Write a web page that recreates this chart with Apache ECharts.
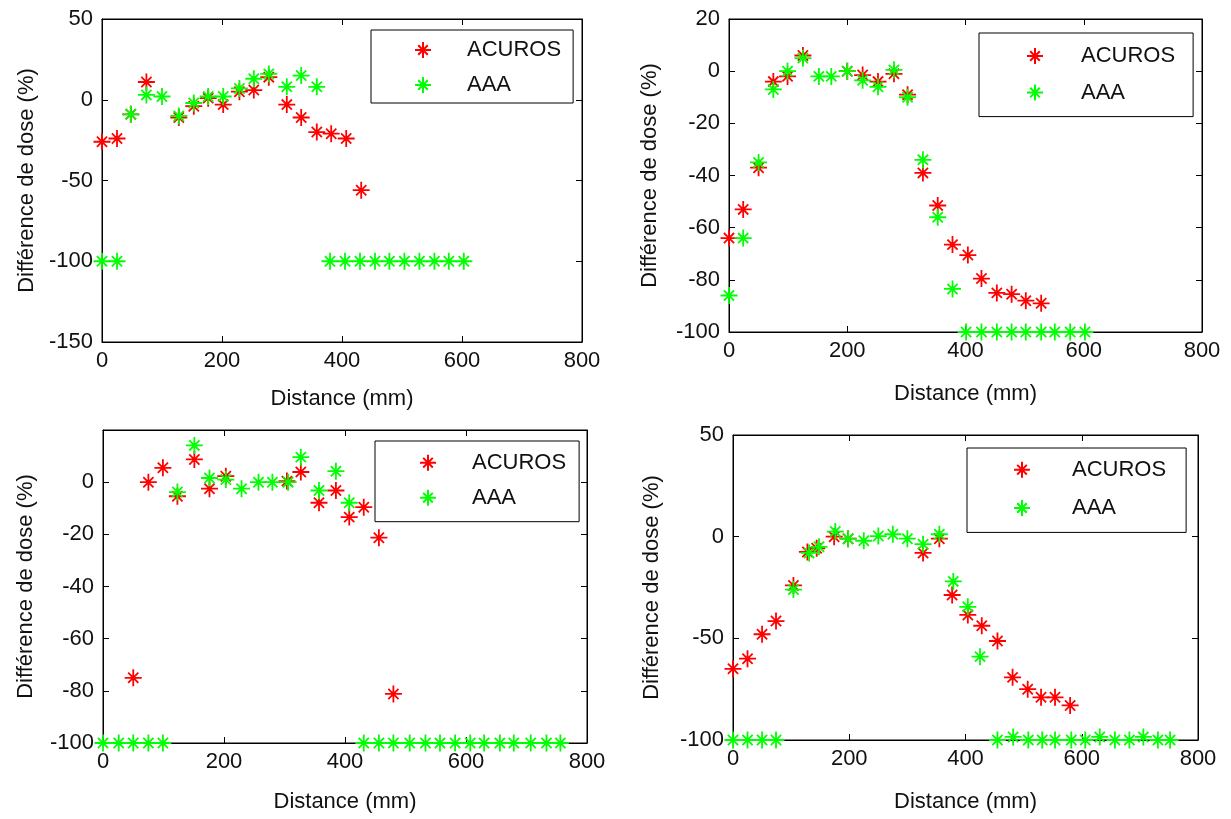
<!DOCTYPE html>
<html>
<head>
<meta charset="utf-8">
<script src="https://cdn.jsdelivr.net/npm/echarts@6/dist/echarts.min.js"></script>
<style>
html,body{margin:0;padding:0;background:#fff;}
#chart{width:1231px;height:819px;}
</style>
</head>
<body>
<div id="chart"></div>
<script>
// ---- Data ----
const seriesNames = ['ACUROS', 'AAA'];
const xTicks = [0, 200, 400, 600, 800];

// Panel 1 (top-left)
const p1AcurosX = [0, 25, 48, 74, 128, 153, 177, 202, 229, 253, 278, 308, 332, 358, 382, 407, 432];
const p1AcurosY = [-26, -24, -9, 11, -11, -4, 1, -3, 5, 6, 14, -3, -11, -20, -21, -24, -56];
const p1AaaX = [0, 25, 48, 74, 100, 128, 153, 177, 202, 229, 253, 278, 308, 332, 358, 380, 405, 430, 455, 479, 504, 529, 554, 578, 603];
const p1AaaY = [-100, -100, -9, 3, 2, -10, -2, 2, 2, 7, 13, 16, 8, 15, 8, -100, -100, -100, -100, -100, -100, -100, -100, -100, -100];
const p1YTicks = [-150, -100, -50, 0, 50];

// Panel 2 (top-right)
const p2AcurosX = [0, 24, 50, 75, 99, 125, 200, 226, 252, 279, 302, 328, 353, 378, 404, 427, 453, 478, 502, 528];
const p2AcurosY = [-64, -53, -37, -4, -2, 6, 0, -1.5, -4, -1, -9, -39, -51.5, -66.5, -70.5, -79.5, -85, -85.5, -88, -89];
const p2AaaX = [0, 24, 50, 75, 99, 125, 152, 173, 200, 226, 252, 279, 302, 328, 353, 378, 401, 427, 453, 478, 502, 528, 551, 577, 602];
const p2AaaY = [-86, -64, -35, -7, 0, 5, -2, -2, 0, -3.5, -6, 0.5, -10, -34, -56, -83.5, -100, -100, -100, -100, -100, -100, -100, -100, -100];
const p2YTicks = [-100, -80, -60, -40, -20, 0, 20];

// Panel 3 (bottom-left)
const p3AcurosX = [50, 75, 99, 123, 151, 176, 203, 304, 327, 357, 385, 407, 431, 456, 480];
const p3AcurosY = [-75, 0, 5.5, -5.4, 8.7, -2.5, 2.3, 0.4, 3.9, -7.9, -3.2, -13.4, -9.6, -21.3, -81.2];
const p3AaaX = [0, 26, 50, 75, 99, 123, 151, 176, 203, 229, 257, 280, 306, 327, 357, 385, 407, 431, 456, 480, 507, 533, 557, 582, 607, 630, 656, 679, 707, 733, 756];
const p3AaaY = [-100, -100, -100, -100, -100, -3.8, 14.1, 1.6, 1, -2.5, 0, 0, 0, 9.6, -3.2, 4.2, -7.9, -100, -100, -100, -100, -100, -100, -100, -100, -100, -100, -100, -100, -100, -100];
const p3YTicks = [-100, -80, -60, -40, -20, 0];

// Panel 4 (bottom-right)
const p4AcurosX = [0, 25, 50, 74, 104, 128, 144, 174, 198, 327, 355, 377, 404, 428, 455, 481, 507, 530, 554, 580];
const p4AcurosY = [-65, -60, -48, -41.5, -24, -7.5, -5.7, 0, -1, -8, -1, -28.7, -38.5, -43.8, -51.3, -69.2, -75, -79, -79, -83];
const p4AaaX = [0, 25, 50, 74, 104, 131, 148, 176, 198, 225, 250, 275, 300, 327, 355, 379, 404, 425, 455, 482, 508, 532, 554, 582, 606, 631, 657, 682, 706, 731, 752];
const p4AaaY = [-100, -100, -100, -100, -26, -8, -5, 2.5, -1, -2, 0.3, 1.2, -1, -3.7, 1.2, -22, -34.5, -59, -100, -98.5, -100, -100, -100, -100, -100, -98.5, -100, -100, -98.5, -100, -100];
const p4YTicks = [-100, -50, 0, 50];

// ---- Layout / styling ----
const FONT = 'Liberation Sans';
const FS = 22;
const STAR = 'path://M10,0L10,20M0,10L20,10M4,4L16,16M4,16L16,4';
const RED = '#ff0000', GREEN = '#00ff00';

const panels = [
  {grid: {left: 102, top: 19, width: 480, height: 323}, yTicks: p1YTicks, hideTop: false,
   xGap: 46, yGap: 64,
   acuros: [p1AcurosX, p1AcurosY], aaa: [p1AaaX, p1AaaY],
   legend: {left: 371, top: 30, padding: [9, 12, 7, 43], gap: 13, textPad: 31}},
  {grid: {left: 729, top: 19, width: 473, height: 313}, yTicks: p2YTicks, hideTop: false,
   xGap: 51, yGap: 68,
   acuros: [p2AcurosX, p2AcurosY], aaa: [p2AaaX, p2AaaY],
   legend: {left: 979, top: 33, padding: [12, 18, 13, 47], gap: 14.6, textPad: 33}},
  {grid: {left: 103, top: 430, width: 484, height: 313}, yTicks: [...p3YTicks, 20], hideTop: true,
   xGap: 48, yGap: 66,
   acuros: [p3AcurosX, p3AcurosY], aaa: [p3AaaX, p3AaaY],
   legend: {left: 375, top: 441, padding: [10.7, 13, 13, 44], gap: 13, textPad: 31}},
  {grid: {left: 733, top: 435, width: 465, height: 305}, yTicks: p4YTicks, hideTop: false,
   xGap: 51, yGap: 70,
   acuros: [p4AcurosX, p4AcurosY], aaa: [p4AaaX, p4AaaY],
   legend: {left: 967, top: 448, padding: [10.7, 20, 13.4, 46], gap: 16.3, textPad: 37}}
];

function zip(xs, ys) { return xs.map((x, i) => [x, ys[i]]); }

const grid = [], xAxis = [], yAxis = [], series = [], legend = [];
const axisLine = {show: true, onZero: false, lineStyle: {color: '#000', width: 1}};
const tickIn = {show: true, inside: true, length: 6, lineStyle: {color: '#000', width: 1}};
const labelStyle = {color: '#111', fontFamily: FONT, fontSize: FS};

panels.forEach((p, i) => {
  grid.push(Object.assign({show: true, borderColor: '#000', borderWidth: 1, backgroundColor: '#fff'}, p.grid));
  const yMin = p.yTicks[0], yMax = p.yTicks[p.yTicks.length - 1];
  const yInt = p.yTicks[1] - p.yTicks[0];
  xAxis[i] = {
    type: 'value', gridIndex: i, position: 'bottom', min: xTicks[0], max: xTicks[xTicks.length - 1], interval: xTicks[1] - xTicks[0],
    axisLine, axisTick: tickIn, splitLine: {show: false},
    axisLabel: Object.assign({margin: 8, showMaxLabel: true, showMinLabel: true}, labelStyle),
    name: 'Distance (mm)', nameLocation: 'middle', nameGap: p.xGap,
    nameTextStyle: Object.assign({}, labelStyle)
  };
  xAxis[i + 4] = {
    type: 'value', gridIndex: i, position: 'top', min: xTicks[0], max: xTicks[xTicks.length - 1], interval: xTicks[1] - xTicks[0],
    axisLine, axisTick: tickIn, splitLine: {show: false}, axisLabel: {show: false}
  };
  yAxis[i] = {
    type: 'value', gridIndex: i, position: 'left', min: yMin, max: yMax, interval: yInt,
    axisLine, axisTick: tickIn, splitLine: {show: false},
    axisLabel: Object.assign({margin: 9, showMaxLabel: true, showMinLabel: true,
      formatter: v => (p.hideTop && v === yMax) ? '' : String(v)}, labelStyle),
    name: 'Différence de dose (%)', nameLocation: 'middle', nameGap: p.yGap,
    nameTextStyle: Object.assign({}, labelStyle)
  };
  yAxis[i + 4] = {
    type: 'value', gridIndex: i, position: 'right', min: yMin, max: yMax, interval: yInt,
    axisLine, axisTick: tickIn, splitLine: {show: false}, axisLabel: {show: false}
  };
  [[seriesNames[0], p.acuros, RED], [seriesNames[1], p.aaa, GREEN]].forEach(([name, d, col]) => {
    series.push({
      type: 'scatter', name, xAxisIndex: i, yAxisIndex: i,
      data: zip(d[0], d[1]),
      symbol: STAR, symbolSize: 17,
      itemStyle: {color: col, borderColor: col, borderWidth: 1.8, opacity: 1},
      emphasis: {disabled: true}, silent: true
    });
  });
  legend.push({
    show: true, orient: 'vertical', left: p.legend.left, top: p.legend.top,
    padding: p.legend.padding, itemGap: p.legend.gap,
    borderColor: '#000', borderWidth: 1, backgroundColor: '#fff',
    itemWidth: 16, itemHeight: 16, icon: STAR, selectedMode: false,
    data: seriesNames,
    textStyle: {color: '#111', fontFamily: FONT, fontSize: FS, lineHeight: 22, padding: [0, 0, 0, p.legend.textPad]}
  });
});

const chart = echarts.init(document.getElementById('chart'), null, {renderer: 'canvas'});
chart.setOption({
  animation: false,
  backgroundColor: '#fff',
  grid, xAxis, yAxis, series, legend
});
</script>
</body>
</html>
